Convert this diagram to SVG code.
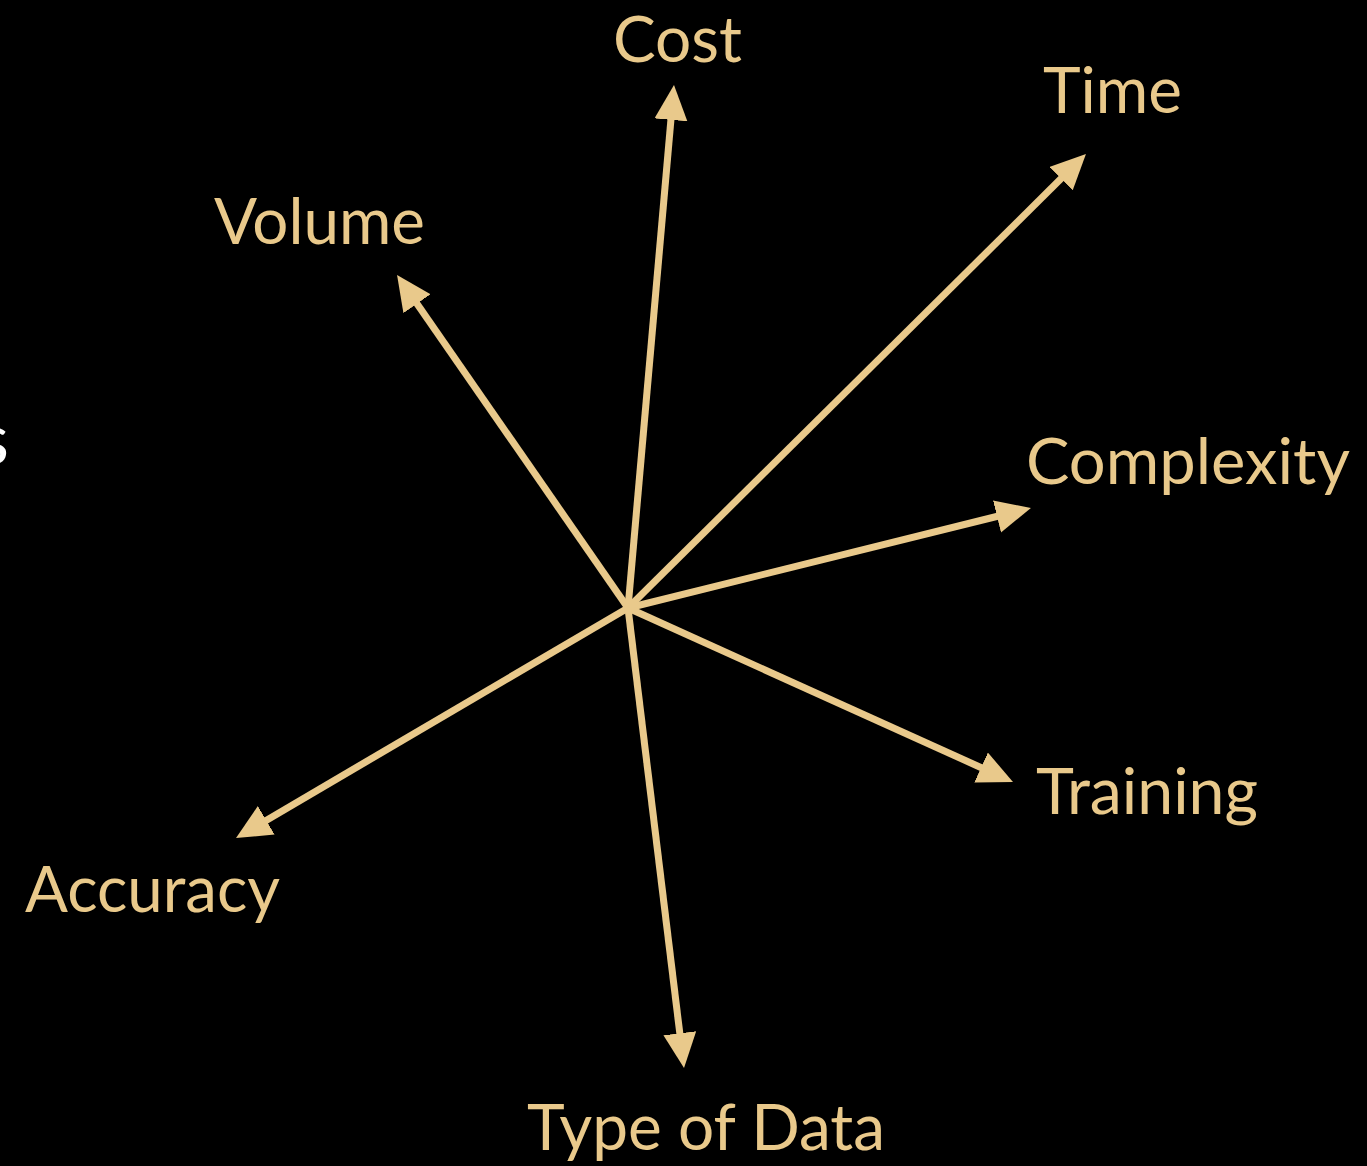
<svg xmlns="http://www.w3.org/2000/svg" width="1367" height="1166" viewBox="0 0 1367 1166">
  <defs>
    <style>
      .label { font-family: Lato, "Open Sans", "Liberation Sans", sans-serif; font-weight: 400; font-size: 64px; fill: #E9C98B; }
      .axis { stroke: #E9C98B; stroke-width: 7; fill: none; marker-end: url(#head); }
    </style>
    <marker id="head" markerUnits="userSpaceOnUse" markerWidth="36" markerHeight="34" refX="10" refY="16.5" orient="auto">
      <path d="M0,0 L35,16.5 L0,33 Z" fill="#E9C98B"/>
    </marker>
  </defs>

  <rect width="1367" height="1166" fill="#000"/>

  <!-- edge of a heading cut off at the left border -->
  <text x="9" y="464" text-anchor="end" font-family="Lato, 'Open Sans', 'Liberation Sans', sans-serif" font-size="72" fill="#fff">s</text>

  <!-- axes radiating from the common origin -->
  <g id="connectors">
    <line class="axis" x1="628" y1="608" x2="671.8" y2="109.9"/>
    <line class="axis" x1="628" y1="608" x2="1068.2" y2="171.6"/>
    <line class="axis" x1="628" y1="608" x2="411.3" y2="295.5"/>
    <line class="axis" x1="628" y1="608" x2="1006.7" y2="514.0"/>
    <line class="axis" x1="628" y1="608" x2="990.2" y2="771.7"/>
    <line class="axis" x1="628" y1="608" x2="257.6" y2="825.4"/>
    <line class="axis" x1="628" y1="608" x2="681.0" y2="1043.2"/>
  </g>

  <g id="cost"><text class="label" x="613" y="62" textLength="129" lengthAdjust="spacingAndGlyphs">Cost</text></g>
  <g id="time"><text class="label" x="1043" y="113" textLength="139" lengthAdjust="spacingAndGlyphs">Time</text></g>
  <g id="volume"><text class="label" x="214" y="244" textLength="211" lengthAdjust="spacingAndGlyphs">Volume</text></g>
  <g id="complexity"><text class="label" x="1026" y="484" textLength="324" lengthAdjust="spacingAndGlyphs">Complexity</text></g>
  <g id="training"><text class="label" x="1036" y="814" textLength="222" lengthAdjust="spacingAndGlyphs">Training</text></g>
  <g id="accuracy"><text class="label" x="25" y="912" textLength="255" lengthAdjust="spacingAndGlyphs">Accuracy</text></g>
  <g id="type-of-data"><text class="label" x="527" y="1150" textLength="358" lengthAdjust="spacingAndGlyphs">Type of Data</text></g>
</svg>
